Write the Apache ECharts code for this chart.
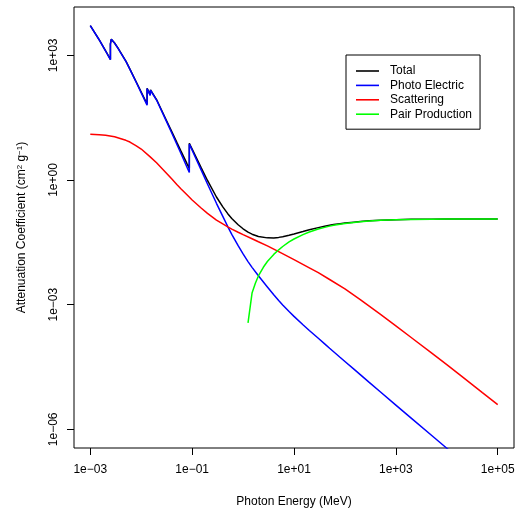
<!DOCTYPE html>
<html>
<head>
<meta charset="utf-8">
<script src="https://cdn.jsdelivr.net/npm/echarts@6/dist/echarts.min.js"></script>
<style>
  html, body { margin: 0; padding: 0; background: #fff; }
  #chart { width: 515px; height: 513px; }
</style>
</head>
<body>
<div id="chart"></div>
<script>
// Photon attenuation in lead.
// Energy grid (MeV) for total and photoelectric; absorption edges appear twice (below / above)
const energyTotal = [
  0.001, 0.0015, 0.002, 0.002484, 0.002484, 0.002586, 0.002586, 0.003, 0.003066, 0.003066,
  0.003554, 0.003554, 0.003851, 0.003851, 0.004, 0.005, 0.006, 0.008, 0.01, 0.01304,
  0.01304, 0.015, 0.0152, 0.0152, 0.01553, 0.01553, 0.02, 0.03, 0.04, 0.05,
  0.06, 0.08, 0.088, 0.088, 0.1, 0.15, 0.2, 0.3, 0.4, 0.5,
  0.6, 0.8, 1, 1.25, 1.5, 2, 3, 4, 5, 6,
  8, 10, 15, 20, 30, 40, 50, 60, 80, 100,
  150, 200, 300, 500, 1000, 2000, 5000, 1e4, 2e4, 5e4,
  1e5
];

// Attenuation coefficients (cm^2/g)
const total = [
  5210, 2356, 1285, 800, 1900, 1780, 2450, 1980, 1880, 2150,
  1450, 1560, 1230, 1290, 1251, 730, 467, 229, 131, 67,
  162, 112, 108, 148, 140, 155, 86.4, 30.3, 14.4, 8.04,
  5.02, 2.42, 1.91, 7.68, 5.55, 1.98, 0.975, 0.39, 0.225, 0.155,
  0.119, 0.084, 0.067, 0.0555, 0.0497, 0.0438, 0.0405, 0.0404, 0.0416, 0.0433,
  0.047, 0.0502, 0.0575, 0.0635, 0.0715, 0.0773, 0.0817, 0.0849, 0.089, 0.0919,
  0.0968, 0.1002, 0.1039, 0.1078, 0.111, 0.1129, 0.1141, 0.1146, 0.1148, 0.1151,
  0.1151
];

const photoElectric = [
  5200, 2344, 1273, 789, 1889, 1769, 2439, 1969, 1869, 2139,
  1440, 1550, 1220, 1280, 1241, 721, 459, 222, 125, 63,
  158, 108.5, 104.6, 144.6, 136.7, 151.7, 84.0, 28.8, 13.35, 7.25,
  4.39, 1.98, 1.52, 7.29, 5.22, 1.75, 0.80, 0.275, 0.133, 0.0759,
  0.0494, 0.0262, 0.0166, 0.01086, 0.00791, 0.00495, 0.00267, 0.00173, 0.00126, 0.000986,
  0.000682, 0.000522, 0.000329, 0.000239, 0.000155, 0.000114, 8.93e-5, 7.36e-5, 5.43e-5, 4.29e-5,
  2.80e-5, 2.07e-5, 1.35e-5, 7.91e-6, 3.83e-6, 1.86e-6, 7.18e-7, 3.49e-7, 1.70e-7, 6.6e-8,
  3.2e-8
];

// Coherent + incoherent scattering
const energyScatter = [
  0.001, 0.0015, 0.002, 0.003, 0.004, 0.005, 0.006, 0.008, 0.01, 0.015,
  0.02, 0.03, 0.04, 0.05, 0.06, 0.08, 0.1, 0.15, 0.2, 0.3,
  0.4, 0.5, 0.6, 0.8, 1, 1.5, 2, 3, 5, 10,
  20, 30, 50, 100, 200, 500, 1000, 2000, 5000, 1e4,
  2e4, 5e4, 1e5
];
const scattering = [
  12.59, 12.28, 11.88, 10.96, 9.87, 9.02, 8.20, 6.59, 5.56, 3.61,
  2.60, 1.545, 1.054, 0.782, 0.618, 0.435, 0.331, 0.212, 0.158, 0.1087,
  0.0875, 0.0745, 0.0658, 0.0553, 0.0484, 0.0385, 0.0326, 0.0259, 0.01884, 0.01216,
  0.00769, 0.00589, 0.00403, 0.00240, 0.00132, 0.000585, 0.000309, 0.000162, 6.89e-5, 3.59e-5,
  1.85e-5, 7.66e-6, 3.94e-6
];

// Pair production (nuclear + electron field), above threshold only
const energyPair = [
  1.25, 1.5, 1.75, 2, 2.5, 3, 4, 5, 6, 8,
  10, 15, 20, 30, 40, 50, 60, 80, 100, 150,
  200, 300, 500, 1000, 2000, 5000, 1e4, 2e4, 5e4, 1e5
];
const pairProduction = [
  3.63e-4, 1.905e-3, 3.31e-3, 4.90e-3, 7.94e-3, 0.01096, 0.01622, 0.02089, 0.02512, 0.03236,
  0.03802, 0.04842, 0.05623, 0.06607, 0.07244, 0.07762, 0.08128, 0.08610, 0.08954, 0.09506,
  0.09886, 0.1030, 0.1072, 0.1107, 0.1127, 0.1140, 0.1146, 0.1148, 0.1151, 0.1151
];

const seriesNames = ['Total', 'Photo Electric', 'Scattering', 'Pair Production'];
const seriesColors = ['#000000', '#0000ff', '#ff0000', '#00ff00'];

const xTickValues = [1e-3, 1e-1, 1e1, 1e3, 1e5];
const xTickLabels = ['1e\u221203', '1e\u221201', '1e+01', '1e+03', '1e+05'];
const yTickValues = [1e-6, 1e-3, 1e0, 1e3];
const yTickLabels = ['1e\u221206', '1e\u221203', '1e+00', '1e+03'];

const FONT = '"Liberation Sans", Arial, Helvetica, sans-serif';

// both axes are log10 scales: points are placed at the decimal logarithm of their values
function toLogPairs(xs, ys) {
  const out = [];
  for (let i = 0; i < xs.length; i++) {
    if (ys[i] == null || ys[i] <= 0) continue;
    out.push([Math.log10(xs[i]), Math.log10(ys[i])]);
  }
  return out;
}

function tickLabeller(values, labels) {
  return function (v) {
    for (let i = 0; i < values.length; i++) {
      if (Math.abs(Math.log10(values[i]) - v) < 1e-6) return labels[i];
    }
    return '';
  };
}

const seriesData = [
  toLogPairs(energyTotal, total),
  toLogPairs(energyTotal, photoElectric),
  toLogPairs(energyScatter, scattering),
  toLogPairs(energyPair, pairProduction)
];

const chart = echarts.init(document.getElementById('chart'), null, { renderer: 'canvas' });

chart.setOption({
  animation: false,
  backgroundColor: '#ffffff',
  grid: {
    left: 74, top: 7, width: 440, height: 441,
    show: true, borderColor: '#000', borderWidth: 1, backgroundColor: 'transparent',
    containLabel: false, outerBoundsMode: 'none'
  },
  xAxis: {
    type: 'value',
    min: -3.32, max: 5.32,
    axisLine: { show: false, onZero: false },
    splitLine: { show: false },
    axisTick: {
      show: true, inside: false, length: 7,
      lineStyle: { color: '#000', width: 1 },
      customValues: xTickValues.map(Math.log10)
    },
    axisLabel: {
      customValues: xTickValues.map(Math.log10),
      formatter: tickLabeller(xTickValues, xTickLabels),
      color: '#000', fontSize: 12, fontFamily: FONT, margin: 16
    },
    name: 'Photon Energy (MeV)',
    nameLocation: 'middle', nameGap: 48,
    nameTextStyle: { color: '#000', fontSize: 12, fontFamily: FONT }
  },
  yAxis: {
    type: 'value',
    min: -6.45, max: 4.164,
    axisLine: { show: false, onZero: false },
    splitLine: { show: false },
    axisTick: {
      show: true, inside: false, length: 7,
      lineStyle: { color: '#000', width: 1 },
      customValues: yTickValues.map(Math.log10)
    },
    axisLabel: {
      customValues: yTickValues.map(Math.log10),
      formatter: tickLabeller(yTickValues, yTickLabels),
      rotate: 90,
      color: '#000', fontSize: 12, fontFamily: FONT, margin: 14
    },
    name: 'Attenuation Coefficient (cm{sup|2} g{sup|\u22121})',
    nameLocation: 'middle', nameGap: 46, nameRotate: 90,
    nameTextStyle: {
      color: '#000', fontSize: 12, fontFamily: FONT,
      rich: {
        sup: { fontSize: 8, fontFamily: FONT, color: '#000', verticalAlign: 'top' }
      }
    }
  },
  legend: {
    orient: 'vertical',
    left: 346, top: 55,
    data: seriesNames,
    selectedMode: false,
    icon: 'rect',
    itemWidth: 23, itemHeight: 1.6, itemGap: 0.4,
    padding: [9, 8, 8, 10],
    borderColor: '#000', borderWidth: 1, borderRadius: 0,
    backgroundColor: '#fff',
    textStyle: { color: '#000', fontSize: 12, fontFamily: FONT, lineHeight: 14, padding: [0, 0, 0, 6] }
  },
  series: seriesNames.map((name, k) => ({
    name: name,
    type: 'line',
    data: seriesData[k],
    symbol: 'none',
    clip: true,
    lineStyle: { color: seriesColors[k], width: 1.5 },
    itemStyle: { color: seriesColors[k] },
    emphasis: { disabled: true },
    z: 2 + k
  }))
});
</script>
</body>
</html>
